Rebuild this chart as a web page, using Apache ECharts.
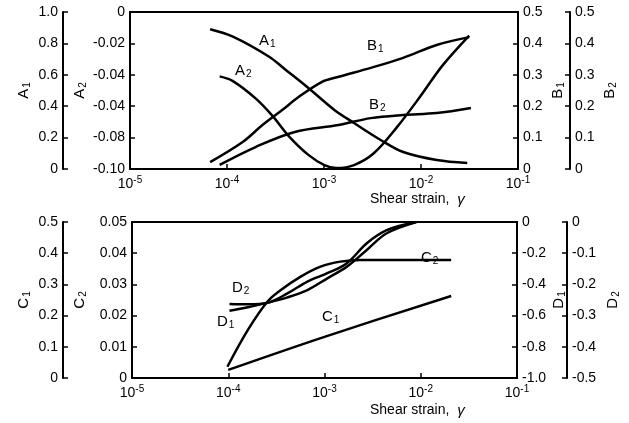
<!DOCTYPE html>
<html>
<head>
<meta charset="utf-8">
<script src="https://cdn.jsdelivr.net/npm/echarts@6/dist/echarts.min.js"></script>
<style>
  html, body { margin: 0; padding: 0; background: #fff; }
  #chart { width: 629px; height: 423px; }
</style>
</head>
<body>
<div id="chart"></div>
<script>
// upper panel
const strainA1 = [6.7e-5, 1.15e-4, 2.72e-4, 3.98e-4, 6.9e-4, 1.28e-3, 2.04e-3, 3.84e-3, 6.56e-3, 1.45e-2, 3.0e-2]
const valA1 = [0.89, 0.843, 0.715, 0.634, 0.516, 0.376, 0.293, 0.185, 0.108, 0.057, 0.038]
const strainA2 = [8.4e-5, 1.15e-4, 1.97e-4, 2.93e-4, 4.33e-4, 6.9e-4, 1.01e-3, 1.34e-3, 2.04e-3, 3.26e-3, 5.71e-3, 9.77e-3, 1.67e-2, 3.14e-2]
const valA2 = [-0.041, -0.044, -0.055, -0.066, -0.079, -0.091, -0.0975, -0.0994, -0.0975, -0.090, -0.073, -0.054, -0.034, -0.015]
const strainB1 = [6.7e-5, 1.45e-4, 2.32e-4, 3.71e-4, 5.47e-4, 9.45e-4, 1.39e-3, 3.03e-3, 6.56e-3, 1.45e-2, 3.14e-2]
const valB1 = [0.022, 0.086, 0.140, 0.188, 0.229, 0.277, 0.293, 0.322, 0.354, 0.395, 0.420]
const strainB2 = [8.4e-5, 1.97e-4, 5.0e-4, 1.41e-3, 3.03e-3, 6.56e-3, 1.45e-2, 3.27e-2]
const valB2 = [0.013, 0.070, 0.118, 0.140, 0.162, 0.172, 0.178, 0.194]

// lower panel
const strainC1 = [1e-4, 1e-3, 2.07e-2]
const valC1 = [0.026, 0.132, 0.263]
const strainC2 = [9.8e-5, 1.6e-4, 2.56e-4, 3.52e-4, 5.66e-4, 9.1e-4, 1.46e-3, 2.35e-3, 2.07e-2]
const valC2 = [0.0036, 0.0154, 0.0245, 0.0282, 0.0325, 0.0357, 0.0373, 0.0378, 0.0378]
const strainD = [1.03e-4, 1.6e-4, 2.56e-4, 4.12e-4, 6.64e-4, 1.07e-3, 1.71e-3, 2.75e-3, 4.43e-3, 9.0e-3]
const valD1 = [-0.569, -0.547, -0.517, -0.483, -0.436, -0.361, -0.286, -0.179, -0.072, 0]
const valD2 = [-0.263, -0.264, -0.259, -0.229, -0.191, -0.164, -0.132, -0.068, -0.026, 0]

// tick labels (bottom to top)
const ticksA1 = ['0', '0.2', '0.4', '0.6', '0.8', '1.0']
const ticksA2 = ['-0.10', '-0.08', '-0.04', '-0.04', '-0.02', '0']
const ticksB = ['0', '0.1', '0.2', '0.3', '0.4', '0.5']
const ticksC1 = ['0', '0.1', '0.2', '0.3', '0.4', '0.5']
const ticksC2 = ['0', '0.01', '0.02', '0.03', '0.04', '0.05']
const ticksD1 = ['-1.0', '-0.8', '-0.6', '-0.4', '-0.2', '0']
const ticksD2 = ['-0.5', '-0.4', '-0.3', '-0.2', '-0.1', '0']

const FONT = '"Liberation Sans", Arial, sans-serif'
const pairs = (xs, ys) => xs.map((x, i) => [x, ys[i]])

const chart = echarts.init(document.getElementById('chart'))

const subRich = {
    n: { fontSize: 15, fontFamily: FONT, color: '#000' },
    s: { fontSize: 10, fontFamily: FONT, color: '#000', padding: [7, 0, 0, 1] }
}

function xAxis(gridIndex) {
    return {
        type: 'log', logBase: 10, min: 1e-5, max: 1e-1, gridIndex,
        axisLine: { lineStyle: { color: '#000', width: 2 } },
        axisTick: { inside: true, length: 5, lineStyle: { color: '#000', width: 1.5 } },
        splitLine: { show: false },
        axisLabel: {
            margin: 6,
            formatter: v => '{b|10}{e|' + Math.round(Math.log10(v)) + '}',
            rich: {
                b: { fontSize: 14, fontFamily: FONT, color: '#000' },
                e: { fontSize: 10, fontFamily: FONT, color: '#000', padding: [0, 0, 8, 0] }
            }
        }
    }
}

function yAxis(gridIndex, position, offset, min, max, ticks, name, nameGap, inside) {
    return {
        type: 'value', gridIndex, position, offset, min, max,
        interval: (max - min) / 5,
        name, nameLocation: 'middle', nameRotate: 90, nameGap,
        nameMoveOverlap: false,
        nameTextStyle: { rich: subRich },
        axisLine: { show: true, onZero: false, lineStyle: { color: '#000', width: 2 } },
        axisTick: { show: true, inside: inside, length: 5, lineStyle: { color: '#000', width: 1.5 } },
        splitLine: { show: false },
        axisLabel: {
            color: '#000', fontSize: 14, fontFamily: FONT, margin: 5,
            formatter: (v, i) => ticks[i]
        }
    }
}

function line(x, y, xs, ys) {
    return {
        type: 'line', xAxisIndex: x, yAxisIndex: y, data: pairs(xs, ys),
        smooth: 0.35, showSymbol: false, silent: true,
        lineStyle: { color: '#000', width: 2.5 }
    }
}

function tag(x, y, a, b) {
    return {
        type: 'text', left: x, top: y,
        style: { text: '{n|' + a + '}{s|' + b + '}', rich: subRich }
    }
}

const option = {
    animation: false,
    backgroundColor: '#fff',
    grid: [
        { left: 130, right: 111, top: 12, height: 157, show: true, borderColor: '#000', borderWidth: 2 },
        { left: 132, right: 109, top: 222, height: 156, show: true, borderColor: '#000', borderWidth: 2 }
    ],
    xAxis: [xAxis(0), xAxis(1)],
    yAxis: [
        yAxis(0, 'left', 67, 0, 1, ticksA1, '{n|A}{s|1}', 31, true),
        yAxis(0, 'left', 0, -0.1, 0, ticksA2, '{n|A}{s|2}', 42, true),
        yAxis(0, 'right', 0, 0, 0.5, ticksB, '{n|B}{s|1}', 31, true),
        yAxis(0, 'right', 52, 0, 0.5, ticksB, '{n|B}{s|2}', 31, true),
        yAxis(1, 'left', 69, 0, 0.5, ticksC1, '{n|C}{s|1}', 31, true),
        yAxis(1, 'left', 0, 0, 0.05, ticksC2, '{n|C}{s|2}', 44, true),
        yAxis(1, 'right', 0, -1, 0, ticksD1, '{n|D}{s|1}', 33, true),
        yAxis(1, 'right', 50, -0.5, 0, ticksD2, '{n|D}{s|2}', 37, true)
    ],
    series: [
        line(0, 0, strainA1, valA1),
        line(0, 1, strainA2, valA2),
        line(0, 2, strainB1, valB1),
        line(0, 3, strainB2, valB2),
        line(1, 4, strainC1, valC1),
        line(1, 5, strainC2, valC2),
        line(1, 6, strainD, valD1),
        line(1, 7, strainD, valD2)
    ],
    graphic: [
        tag(259, 33, 'A', '1'),
        tag(235, 63, 'A', '2'),
        tag(367, 38, 'B', '1'),
        tag(369, 97, 'B', '2'),
        tag(232, 280, 'D', '2'),
        tag(217, 314, 'D', '1'),
        tag(322, 309, 'C', '1'),
        tag(421, 250, 'C', '2'),
        {
            type: 'text', left: 370, top: 192,
            style: { text: '{t|Shear strain,  }{g|γ}', rich: {
                t: { fontSize: 14, fontFamily: FONT, color: '#000' },
                g: { fontSize: 15, fontFamily: FONT, fontStyle: 'italic', color: '#000' }
            } }
        },
        {
            type: 'text', left: 370, top: 403,
            style: { text: '{t|Shear strain,  }{g|γ}', rich: {
                t: { fontSize: 14, fontFamily: FONT, color: '#000' },
                g: { fontSize: 15, fontFamily: FONT, fontStyle: 'italic', color: '#000' }
            } }
        }
    ]
}
chart.setOption(option)
window.addEventListener('resize', () => {
    chart.resize()
})
</script>
</body>
</html>
